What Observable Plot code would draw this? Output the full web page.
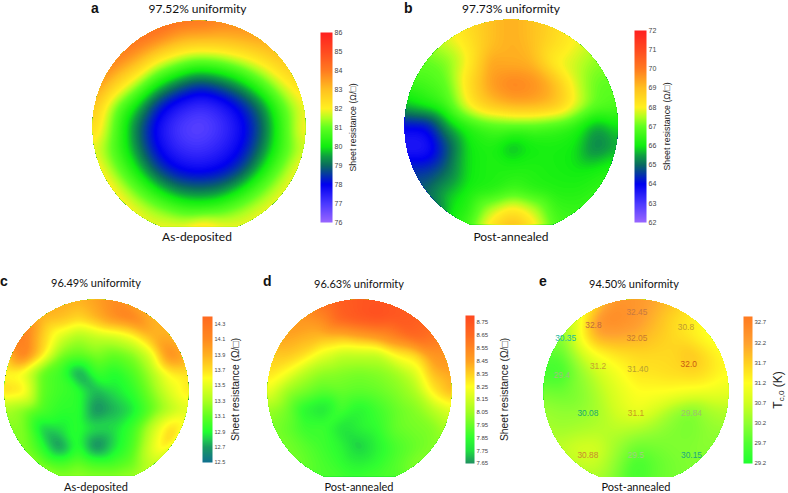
<!DOCTYPE html>
<html>
<head>
<meta charset="utf-8">
<script src="https://cdn.jsdelivr.net/npm/d3@7"></script>
<script src="https://cdn.jsdelivr.net/npm/@observablehq/plot@0.6"></script>
<style>
html,body{margin:0;padding:0;background:#fff}
#root{position:relative;width:788px;height:493px;overflow:hidden;background:#fff}
#root svg{position:absolute;background:transparent;overflow:visible}
.cap{position:absolute;transform:translate(-50%,-50%);font-family:Lato,"Open Sans",sans-serif;color:#111;white-space:nowrap}
.let{position:absolute;transform:translateY(-50%);font-family:"Liberation Sans",Arial,sans-serif;font-weight:700;color:#111;font-size:14px;line-height:10px}
.tc{position:absolute;transform:translate(-50%,-50%) rotate(-90deg);font-family:"Liberation Sans",Arial,sans-serif;font-size:12px;color:#222;white-space:nowrap}
.tc sub{font-size:8px;vertical-align:-2px}
</style>
</head>
<body>
<div id="root"></div>
<script>
// Wafer positions of the sampled values, normalised to the wafer radius
const gridU = [-1,-.8,-.6,-.4,-.2,0,.2,.4,.6,.8,1];
const gridV = [1,.8,.6,.4,.2,0,-.2,-.4,-.6,-.8,-1];
const _ = null;

const sheetA = [
[_,_,_,_,84.3,84.3,84,_,_,_,_],
[_,_,84.2,83.8,83.2,83,83,83.1,83.4,_,_],
[_,84,83.2,81.9,81.2,80.7,80.9,81.5,82.1,82.9,_],
[83.7,82.8,81.6,80.1,79.1,78.5,78.9,79.6,80.8,81.9,82.6],
[83.2,81.3,80,78.4,77.6,77.2,77.5,78.2,79.3,81,82.1],
[82.8,81,79.2,77.8,77,76.7,77.1,77.8,78.9,80.7,82.4],
[82,80.8,79.4,78,77.3,77.1,77.4,78,79.2,80.7,81.8],
[82.5,81.3,80.1,78.7,78,77.8,78,78.6,80,81.3,82.5],
[_,82.2,81.1,80.1,79.3,79.1,79.3,80.1,81.1,82,_],
[_,_,82,81.5,81,80.8,81,81.5,82,_,_],
[_,_,_,82,82.3,83.2,82.3,82,_,_,_]];

const sheetB = [
[_,_,_,_,69,69.3,69,_,_,_,_],
[_,_,67.8,68.3,69,69.3,69,68.5,68,_,_],
[_,67,67.2,68,69.5,69.3,69.2,68,67.7,67.3,_],
[66.5,66.7,67,68.4,69.6,70,69.8,69.2,67.8,67,67],
[65.8,66.2,66.7,68.1,69,69.4,69.4,69.1,68,67,66.8],
[64,64,65.5,66.3,66.7,66.8,66.8,66.6,66.3,65.4,66],
[63.5,63.5,64.7,66,66.2,65.5,66,66.1,66,65.1,65.6],
[64.5,64.4,65,66,66.2,66.2,66.2,66.1,66,66.1,66.3],
[_,65,65.6,66.1,66.2,66.6,66.3,66.2,66.2,66.4,_],
[_,_,66,66.3,67.7,68.5,67.8,66.6,66.5,_,_],
[_,_,_,66.8,68.5,69.5,68.5,66.8,_,_,_]];

const sheetC = [
[_,_,_,_,13.9,14,14.1,_,_,_,_],
[_,_,13.9,13.85,13.75,13.9,14.1,14.2,13.9,_,_],
[_,14.25,13.8,13.5,13.3,13.4,13.45,13.6,13.9,13.9,_],
[13.7,14.25,13.75,13.2,13.1,13.2,13.1,13.2,13.5,14.15,13.9],
[13.6,13.55,13.1,13,12.68,13,12.9,13.05,13.3,13.65,13.7],
[13.75,13.7,13.1,13,12.95,12.75,12.85,12.95,13.2,13.5,13.7],
[13.3,13.2,13.05,12.95,12.95,12.65,12.75,12.85,13.1,13.35,13.5],
[13.2,13.2,12.8,12.85,12.95,12.85,12.85,13,13.4,13.75,13.55],
[_,13.2,12.95,12.65,12.95,12.62,12.85,13.05,13.5,13.8,_],
[_,_,13.15,13.05,13.15,13.05,13.05,13.15,13.4,_,_],
[_,_,_,13.3,13.3,13.3,13.3,13.3,_,_,_]];

const sheetD = [
[_,_,_,_,8.72,8.75,8.76,_,_,_,_],
[_,_,8.5,8.55,8.7,8.75,8.78,8.75,8.72,_,_],
[_,8.45,8.42,8.4,8.4,8.45,8.5,8.58,8.68,8.62,_],
[8.35,8.38,8.33,8.2,8.12,8.12,8.12,8.27,8.32,8.5,8.5],
[8.32,8.25,8.1,8.02,8,7.98,8,8.05,8.17,8.4,8.45],
[8.22,8.05,7.98,7.92,7.95,7.93,7.95,8,8.07,8.3,8.42],
[8.05,7.98,7.82,7.76,7.9,7.82,7.88,7.95,8,8.1,8.2],
[8,7.95,7.87,7.88,7.76,7.82,7.86,7.95,7.98,8,8.1],
[_,7.98,7.93,7.88,7.83,7.71,7.82,7.9,7.95,8,_],
[_,_,7.95,7.9,7.86,7.82,7.86,7.92,8,_,_],
[_,_,_,7.9,7.9,7.9,7.9,7.9,_,_,_]];

const tcE = [
[_,_,_,_,32.4,32.4,32.2,_,_,_,_],
[_,_,31,32.6,32.6,32.4,32,31.6,31.4,_,_],
[_,30.1,31.2,32.2,32.2,32.05,31.8,31.6,31.4,31.1,_],
[29.7,29.8,30.6,31.2,31.5,31.6,31.6,31.6,31.9,31.5,31.2],
[29.6,29.5,30.2,30.7,31.1,31.5,31.5,31.6,31.7,31.5,31.2],
[30,29.9,30.1,30.5,30.9,31.2,31.2,31.2,31.1,31.05,31],
[30.3,30.2,30.2,30.4,30.8,31.1,30.8,30.3,30,30.4,30.5],
[30.4,30.3,30.4,30.5,30.6,30.5,30.3,30.1,30,30.2,30.3],
[_,30.6,30.8,30.8,30.3,29.9,30,30.1,30.1,30.2,_],
[_,_,30.7,30.6,30.1,29.5,29.8,30,30.1,_,_],
[_,_,_,30.3,30,29.6,29.9,30,_,_,_]];

// Colour bars
const ticksAB = [86,85,84,83,82,81,80,79,78,77,76];
const ticksB = [72,71,70,69,68,67,66,65,64,63,62];
const ticksC = [14.3,14.1,13.9,13.7,13.5,13.3,13.1,12.9,12.7,12.5];
const ticksD = [8.75,8.65,8.55,8.45,8.35,8.25,8.15,8.05,7.95,7.85,7.75,7.65];
const ticksE = [32.7,32.2,31.7,31.2,30.7,30.2,29.7,29.2];

const stopsA = [76,77,78,79,79.5,80,81,81.5,82,83,84,85,86];
const coloursA = ["#9966ff","#4a38ff","#0000f0","#0a6a60","#0fa040","#10ee10","#60ff20","#b0ff20","#fff020","#ffc020","#ff7a20","#ff4a20","#ff2020"];
const stopsB = stopsA.map(d => d - 14);
const stopsC = [12.5,12.7,12.8,12.9,13.1,13.3,13.6,13.7,13.9,14.1,14.4];
const coloursC = ["#107090","#1a9a60","#20cc50","#20ff30","#60ff20","#aaff20","#ffff20","#ffe020","#ffb020","#ff8a20","#ff6a20"];
const stopsD = [7.65,7.75,7.85,8.05,8.25,8.45,8.65,8.8];
const coloursD = ["#209060","#20e040","#30ff30","#a0ff20","#ffff20","#ffa020","#ff6a20","#ff4a20"];
const stopsE = [29.2,29.7,30.2,30.7,31.2,31.7,32.2,32.85];
const coloursE = ["#20ff30","#50ff30","#90ff30","#d0ff20","#ffff20","#ffd020","#ffa030","#ff7a20"];

// Measured Tc,0 labels on wafer e
const labelText = ["32.45","32.8","30.8","30.35","32.05","31.2","31.40","32.0","29.4","30.08","31.1","29.84","30.88","29.5","30.15"];
const labelU = [.01,-.46,.54,-.76,.01,-.41,.02,.57,-.8,-.52,0,.6,-.52,0,.6];
const labelV = [.86,.72,.7,.58,.58,.28,.25,.3,.18,-.23,-.23,-.23,-.68,-.68,-.68];
const labelInk = ["#c87a40","#c06a40","#c09a30","#20b8a0","#c87a30","#c8a030","#b8a030","#c85a10","#a0c080","#20a870","#c89a20","#a0c070","#c88a30","#a0d080","#20a880"];

const root = document.getElementById("root");
const place = (el, left, top) => { el.style.left = left + "px"; el.style.top = top + "px"; root.appendChild(el); };
const text = (cls, str, left, top, size) => {
  const el = document.createElement("div");
  el.className = cls; el.textContent = str;
  if (size) el.style.fontSize = size + "px";
  place(el, left, top);
};

let clipId = 0;
function wafer({values, stops, colours, cx, cy, r, flat, blur, marks = []}) {
  const table = [];
  values.forEach((row, j) => row.forEach((v, i) => { if (v !== null) table.push({u: gridU[i], v: gridV[j], value: v}); }));
  const id = "wafer-clip-" + (++clipId);
  const size = 2 * r;
  const lo = d3.min(table, d => d.value), hi = d3.max(table, d => d.value);
  const svg = Plot.plot({
    width: size, height: size,
    margin: 0,
    x: {domain: [-1, 1], axis: null},
    y: {domain: [-1, 1], axis: null},
    color: {type: "linear", domain: stops, range: colours, clamp: true},
    marks: [
      Plot.contour(table, {
        x: "u", y: "v", fill: "value",
        x1: -1, x2: 1, y1: -1, y2: 1,
        pixelSize: 1, interpolate: "barycentric", blur, smooth: true,
        thresholds: d3.range(lo - (hi - lo), hi, (hi - lo) / 120).map(d => Math.max(d, lo - (hi - lo) / 120)),
        render(index, scales, channels, dimensions, context, next) {
          const g = next(index, scales, channels, dimensions, context);
          const ns = "http://www.w3.org/2000/svg";
          const clip = document.createElementNS(ns, "clipPath");
          clip.setAttribute("id", id);
          const px = scales.x(0), py = scales.y(0), rad = scales.x(1) - px;
          const fy = scales.y(flat), half = Math.sqrt(Math.max(0, rad * rad - (fy - py) * (fy - py)));
          const p = document.createElementNS(ns, "path");
          p.setAttribute("d", `M${px - half},${fy}A${rad},${rad} 0 1 1 ${px + half},${fy}Z`);
          clip.appendChild(p);
          g.insertBefore(clip, g.firstChild);
          g.setAttribute("clip-path", `url(#${id})`);
          return g;
        }
      }),
      ...marks
    ]
  });
  place(svg, cx - r, cy - r);
}

function colourBar({stops, colours, ticks, x, top, bottom, w, hi, lo, size, title, titleSize, titleX, right, format}) {
  const pad = 6;
  const svg = Plot.plot({
    width: w + right, height: bottom - top + 2 * pad,
    marginLeft: 0, marginRight: right, marginTop: pad, marginBottom: pad,
    x: {domain: [0, 1], axis: null},
    y: {domain: [lo, hi], axis: null},
    color: {type: "linear", domain: stops, range: colours, clamp: true},
    marks: [
      Plot.raster({fill: (a, b) => b, x1: 0, x2: 1, y1: lo, y2: hi, pixelSize: 1}),
      Plot.axisY(ticks, {anchor: "right", tickSize: 0, tickPadding: 2, label: null, fontSize: size, fontFamily: "Liberation Sans, Arial, sans-serif", fill: "#444", tickFormat: format}),
      ...(title ? [Plot.text([title], {frameAnchor: "right", textAnchor: "middle", rotate: -90, dx: titleX, fontSize: titleSize, fontFamily: "Liberation Sans, Arial, sans-serif", fill: "#222"})] : [])
    ]
  });
  place(svg, x, top - pad);
}

const ohms = "Sheet resistance (Ω/□)";
wafer({values: sheetA, stops: stopsA, colours: coloursA, cx: 198, cy: 126, r: 106.5, flat: -0.934, blur: 7});
colourBar({stops: stopsA, colours: coloursA, ticks: ticksAB, x: 320, top: 32, bottom: 222, w: 12, hi: 86, lo: 76, size: 7, title: ohms, titleSize: 8.8, titleX: 21, right: 30, format: d3.format("d")});
wafer({values: sheetB, stops: stopsB, colours: coloursA, cx: 511, cy: 126, r: 106.7, flat: -0.92, blur: 6});
colourBar({stops: stopsB, colours: coloursA, ticks: ticksB, x: 634, top: 30, bottom: 222, w: 12, hi: 72, lo: 62, size: 7, title: ohms, titleSize: 8.8, titleX: 21, right: 30, format: d3.format("d")});
wafer({values: sheetC, stops: stopsC, colours: coloursC, cx: 96, cy: 391, r: 92, flat: -0.913, blur: 4});
colourBar({stops: stopsC, colours: coloursC, ticks: ticksC, x: 202, top: 316, bottom: 462, w: 10, hi: 14.4, lo: 12.5, size: 5.5, title: ohms, titleSize: 10.3, titleX: 23, right: 32, format: d3.format(".1f")});
wafer({values: sheetD, stops: stopsD, colours: coloursD, cx: 359, cy: 391, r: 92, flat: -0.92, blur: 4});
colourBar({stops: stopsD, colours: coloursD, ticks: ticksD, x: 465, top: 315, bottom: 463, w: 9, hi: 8.805, lo: 7.65, size: 6, title: ohms, titleSize: 10.3, titleX: 30, right: 40, format: d3.format(".2f")});

const labelRows = labelText.map((t, i) => ({t, u: labelU[i], v: labelV[i], ink: labelInk[i]}));
wafer({values: tcE, stops: stopsE, colours: coloursE, cx: 635.5, cy: 391, r: 92.5, flat: -0.92, blur: 6, marks: [
  Plot.text(labelRows, {x: "u", y: "v", text: "t", fill: "ink", fontSize: 8.4, fontFamily: "Liberation Sans, Arial, sans-serif"})
]});
colourBar({stops: stopsE, colours: coloursE, ticks: ticksE, x: 743, top: 316, bottom: 463, w: 9, hi: 32.85, lo: 29.2, size: 6, right: 22, format: d3.format(".1f")});

// Axis title with a subscript on the last colour bar
const tc = document.createElement("div");
tc.className = "tc";
tc.innerHTML = "T<sub>c,0</sub> (K)";
place(tc, 778, 390);

// Captions
text("cap", "97.52% uniformity", 197.5, 8, 12);
text("cap", "As-deposited", 197, 236, 12);
text("cap", "97.73% uniformity", 511, 8, 12);
text("cap", "Post-annealed", 511, 236, 12);
text("cap", "96.49% uniformity", 96, 282, 11);
text("cap", "As-deposited", 96, 486, 11);
text("cap", "96.63% uniformity", 359, 283, 11);
text("cap", "Post-annealed", 359, 486, 11);
text("cap", "94.50% uniformity", 634, 283, 11);
text("cap", "Post-annealed", 636, 486, 11);
text("let", "a", 91, 8);
text("let", "b", 404, 8);
text("let", "c", 0, 281);
text("let", "d", 263, 281);
text("let", "e", 539, 281);
</script>
</body>
</html>
